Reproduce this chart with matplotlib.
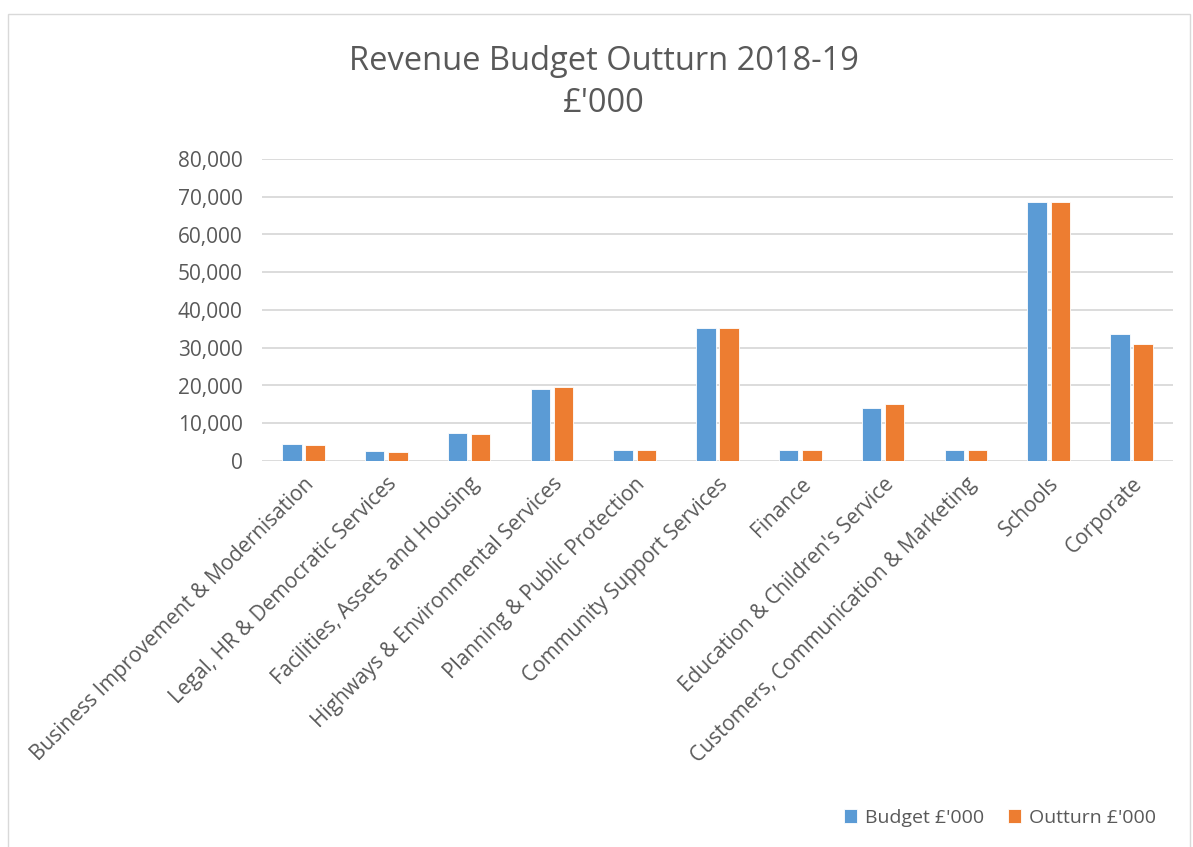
import numpy as np
import matplotlib
matplotlib.use('Agg')
import matplotlib.pyplot as plt
from matplotlib.ticker import FuncFormatter

categories = ['Business Improvement & Modernisation', 'Legal, HR & Democratic Services',
              'Facilities, Assets and Housing', 'Highways & Environmental Services',
              'Planning & Public Protection', 'Community Support Services', 'Finance',
              "Education & Children's Service", 'Customers, Communication & Marketing',
              'Schools', 'Corporate']
budget = [4500, 2600, 7300, 19000, 2800, 35100, 3000, 14100, 2900, 68700, 33700]
outturn = [4300, 2400, 7200, 19500, 2800, 35100, 3000, 15100, 2900, 68500, 31000]

grey = '#595959'
plt.rcParams['font.family'] = ['Open Sans', 'DejaVu Sans']

fig = plt.figure(figsize=(11.93, 8.47), dpi=100)
ax = fig.add_axes([262/1193, 1 - 461/847, 911/1193, 302/847])

x = np.arange(len(categories))
w = 0.235
ax.bar(x - 0.14, budget, w, color='#5b9bd5', edgecolor='white', linewidth=0.6, label="Budget £'000", zorder=3)
ax.bar(x + 0.14, outturn, w, color='#ed7d31', edgecolor='white', linewidth=0.6, label="Outturn £'000", zorder=3)

ax.set_xlim(-0.5, len(categories) - 0.5)
ax.set_ylim(0, 80000)
ax.set_yticks(range(0, 80001, 10000))
ax.yaxis.set_major_formatter(FuncFormatter(lambda v, p: f'{int(v):,}'))
ax.grid(axis='y', color='#d9d9d9', linewidth=1.3, zorder=0)
for s in ax.spines.values():
    s.set_visible(False)
ax.tick_params(axis='both', length=0, colors=grey)
ax.tick_params(axis='y', pad=14, labelsize=15)
ax.set_xticks(x)
ax.set_xticklabels(categories, rotation=45, ha='right', rotation_mode='anchor', fontsize=15, color=grey)
ax.tick_params(axis='x', pad=9)

fig.text(0.506, 1 - 62/847, 'Revenue Budget Outturn 2018-19', ha='center', va='center', fontsize=23.5, color=grey)
fig.text(0.506, 1 - 104/847, "£'000", ha='center', va='center', fontsize=23.5, color=grey)

fig.legend(loc='center', bbox_to_anchor=(1000/1193, 1 - 818/847), ncol=2, frameon=False,
           fontsize=14, labelcolor=grey, handlelength=0.7, handleheight=0.7, columnspacing=1.2, handletextpad=0.4)

border = plt.Rectangle((8/1193, -0.01), 1182/1193, 1 - 14/847 + 0.01, transform=fig.transFigure, fill=False,
                       edgecolor='#d9d9d9', linewidth=1)
fig.patches.append(border)

fig.savefig('out.png', dpi=100)
